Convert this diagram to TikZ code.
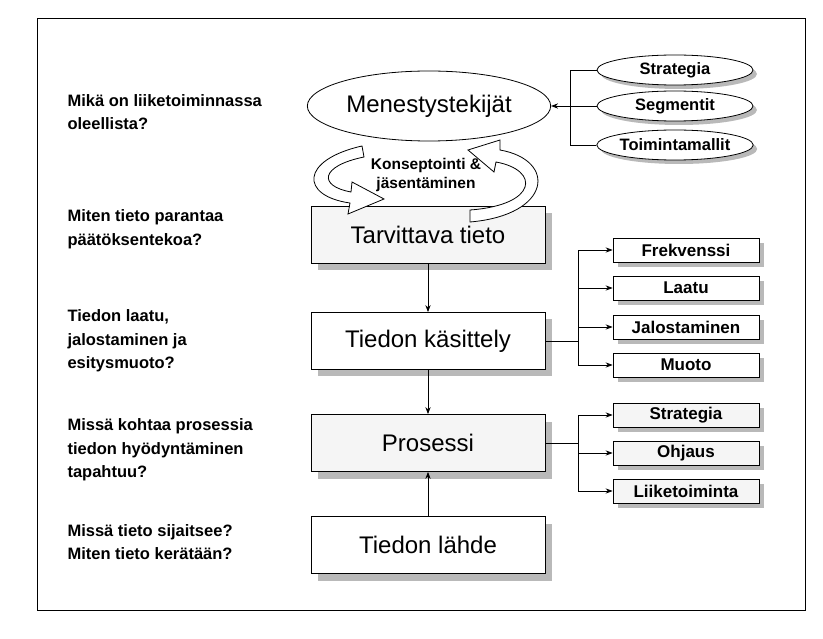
\documentclass[tikz,border=0pt]{standalone}
\usepackage{fontspec}
\setmainfont{Liberation Sans}
\usetikzlibrary{arrows.meta,calc,shapes.geometric,shadows}
\tikzset{
    question/.style = {
        anchor=west,
        align=left,
        font=\bfseries\fontsize{16.5}{23.5}\selectfont,
        },
    main box/.style = {
        draw, thick,
        minimum width=234pt,
        minimum height=57pt,
        font=\fontsize{24}{26}\selectfont,
        fill=white,
        drop shadow={shadow xshift=7pt, shadow yshift=-7pt, fill=gray!55, opacity=1},
        },
    grey box/.style = {
        fill = gray!8,
        },
    side box/.style = {
        draw, thick,
        minimum width=146pt,
        minimum height=24pt,
        inner sep=1pt,
        font=\bfseries\fontsize{17}{18}\selectfont,
        fill=white,
        drop shadow={shadow xshift=5pt, shadow yshift=-5pt, fill=gray!55, opacity=1},
        },
    side ellipse/.style = {
        draw, thick, ellipse,
        minimum width=156pt,
        minimum height=30pt,
        inner sep=0pt,
        font=\bfseries\fontsize{16.5}{18}\selectfont,
        fill=white,
        drop shadow={shadow xshift=4pt, shadow yshift=-4pt, fill=gray!55, opacity=1},
        },
    link/.style = {
        draw, thick,
        -{Stealth[length=7pt]},
        },
    block arrow/.style = {
        draw, thick, fill=white,
        },
}
\begin{document}
\begin{tikzpicture}[x=1pt,y=-1pt]
    \useasboundingbox (0,0) rectangle (823,639);
    \draw[thick] (37,18) rectangle (805,610);

    % questions on the left
    \node[question] (q1) at (64,112) {Mikä on liiketoiminnassa\\oleellista?};
    \node[question] (q2) at (64,229) {Miten tieto parantaa\\päätöksentekoa?};
    \node[question] (q3) at (64,341) {Tiedon laatu,\\jalostaminen ja\\esitysmuoto?};
    \node[question] (q4) at (64,450) {Missä kohtaa prosessia\\tiedon hyödyntäminen\\tapahtuu?};
    \node[question] (q5) at (64,542) {Missä tieto sijaitsee?\\Miten tieto kerätään?};

    % main column
    \node[main box, grey box] (need) at (428,235) {Tarvittava tieto};
    \node[main box] (handle) at (428,341) {Tiedon käsittely};
    \node[main box, grey box] (proc) at (428,443) {Prosessi};
    \node[main box] (source) at (428,545) {Tiedon lähde};

    % curved arrows
    \path[block arrow] (362,146) .. controls (300,160) and (300,196) .. (350,203)
        -- (348,214) -- (384,199) -- (352,182) -- (351,192)
        .. controls (318,186) and (320,166) .. (364,157) -- cycle;
    \path[block arrow] (470,222) .. controls (552,215) and (557,160) .. (500,150)
        -- (500,140) -- (468,150) -- (494,172) -- (496,162)
        .. controls (540,170) and (538,205) .. (470,210) -- cycle;

    \node[draw, thick, ellipse, fill=white, minimum width=238pt, minimum height=70pt,
        font=\fontsize{24}{26}\selectfont] (success) at (429,106) {Menestystekijät};
    \node[align=center, font=\bfseries\fontsize{15.5}{19}\selectfont] (concept) at (426,175)
        {Konseptointi \&\\jäsentäminen};

    % ellipses on the right
    \node[side ellipse] (strat) at (675,70) {Strategia};
    \node[side ellipse] (segm) at (675,106) {Segmentit};
    \node[side ellipse] (toim) at (675,145) {Toimintamallit};
    \draw[thick] (strat.west) -| (570,106);
    \draw[thick] (toim.west) -| (570,106);
    \draw[link] (segm.west) -- (success.east);

    % boxes on the right
    \node[side box] (frek) at (686,250) {Frekvenssi};
    \node[side box] (laatu) at (686,288) {Laatu};
    \node[side box] (jalo) at (686,327) {Jalostaminen};
    \node[side box] (muoto) at (686,365) {Muoto};
    \node[side box, grey box] (strat2) at (686,415) {Strategia};
    \node[side box, grey box] (ohj) at (686,453) {Ohjaus};
    \node[side box, grey box] (liik) at (686,491) {Liiketoiminta};

    \coordinate (fork1) at (578,341);
    \coordinate (fork2) at (578,443);
    \draw[thick] (handle.east) -- (fork1);
    \foreach \n in {frek,laatu,jalo,muoto}
        \draw[link] (fork1) |- (\n.west);
    \draw[thick] (proc.east) -- (fork2);
    \foreach \n in {strat2,ohj,liik}
        \draw[link] (fork2) |- (\n.west);

    % main flow
    \draw[link] (need) -- (handle);
    \draw[link] (handle) -- (proc);
    \draw[link] (source) -- (proc);
\end{tikzpicture}
\end{document}
